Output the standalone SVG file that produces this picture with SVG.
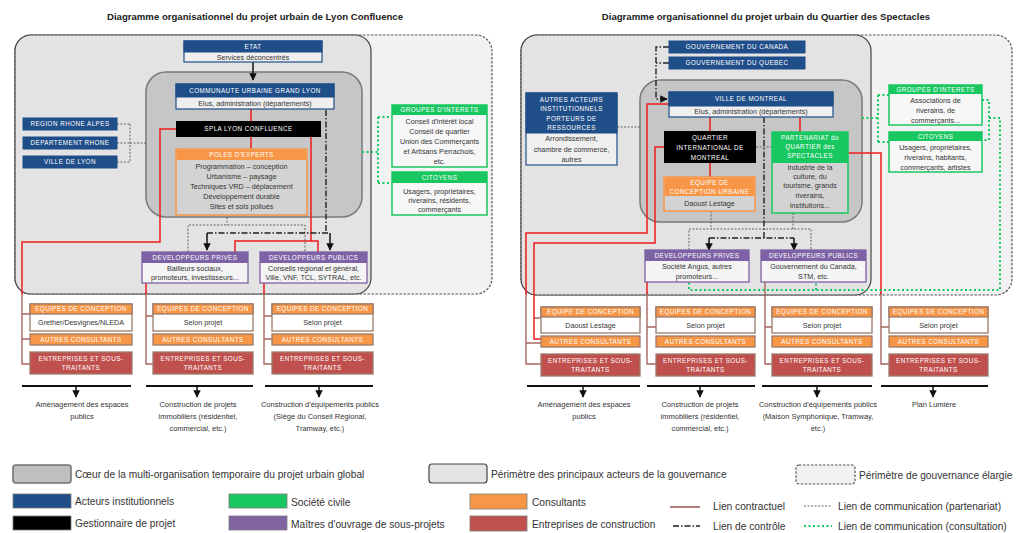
<svg xmlns="http://www.w3.org/2000/svg" width="1025" height="533" viewBox="0 0 1025 533">
<style>
text{font-family:"Liberation Sans",Arial,sans-serif}
.title{font-size:9.6px;font-weight:bold;fill:#222;text-anchor:middle}
.h{font-size:6.3px;letter-spacing:0.45px;fill:#fff;text-anchor:middle}
.b{font-size:7.2px;fill:#333;text-anchor:middle}
.cap{font-size:7.5px;fill:#333;text-anchor:middle}
.lg{font-size:10.2px;fill:#333}
.elarg{fill:#f2f2f2;stroke:#555;stroke-width:1.2;stroke-dasharray:2.5 1.5}
.princ{fill:#e3e3e3;stroke:#444;stroke-width:1.2}
.core{fill:#c6c6c6;stroke:#7a7a7a;stroke-width:1.5}
.inst{fill:#1f4e89;stroke:#1f4e89;stroke-width:1}
.instb{fill:#efefef;stroke:#1f4e89;stroke-width:1.2}
.proj{fill:#000}
.cons{fill:#f79646}
.consb{fill:#d3d3d3;stroke:#f79646;stroke-width:1.5}
.civ{fill:#19c760}
.civb{fill:#f7f7f7;stroke:#19c760;stroke-width:1.5}
.civg{fill:#d3d3d3;stroke:#19c760;stroke-width:1.5}
.moa{fill:#7e62a6}
.moab{fill:#f4f4f4;stroke:#7e62a6;stroke-width:1.3}
.eqb{fill:#fff;stroke:#9c7b6b;stroke-width:1.3}
.eqh{fill:#f79646;stroke:#9c7b6b;stroke-width:1.3}
.ent{fill:#c0504d;stroke:#9c7b6b;stroke-width:1.3}
.red{fill:none;stroke:#ee1c1c;stroke-width:1.5}
.ctr{fill:none;stroke:#a8655e;stroke-width:1.4}
.com{fill:none;stroke:#555;stroke-width:0.9;stroke-dasharray:2 1.5}
.ctl{fill:none;stroke:#222;stroke-width:1.4;stroke-dasharray:6 2 1.5 2}
.cst{fill:none;stroke:#19c760;stroke-width:2;stroke-dasharray:2 2.5}
.base{fill:none;stroke:#111;stroke-width:2}
.down{fill:none;stroke:#111;stroke-width:1.5}
</style>
<defs>
<marker id="ah" viewBox="0 0 10 10" refX="9" refY="5" markerWidth="5" markerHeight="5" orient="auto"><path d="M0,0 L10,5 L0,10 z" fill="#111"/></marker>
</defs>

<!-- titles -->
<text class="title" x="255" y="19.5">Diagramme organisationnel du projet urbain de Lyon Confluence</text>
<text class="title" x="766" y="19.5">Diagramme organisationnel du projet urbain du Quartier des Spectacles</text>

<!-- ===== Lyon Confluence ===== -->
<g id="lyon-perimetres">
<rect class="elarg" x="15" y="35" width="477" height="259" rx="16"/>
<rect class="princ" x="15" y="35" width="356" height="259" rx="16"/>
<rect class="core" x="146" y="72" width="216" height="145" rx="20"/>
</g>

<g id="lyon-connectors">
<!-- contract links -->
<path class="ctr" d="M22 292V364H30M22 314H30M22 339H30"/>
<path class="ctr" d="M146 292V364H153M146 316H153"/>
<path class="ctr" d="M264 292V364H272M264 316H272M264 339H272"/>
<path class="red" d="M251 109V121M251 137V149"/>
<path class="red" d="M176 129H160V242H22V294"/>
<path class="red" d="M311 137V241M235 252V241H318V252"/>
<path class="red" d="M146 283V294M264 283V294"/>
<!-- partnership communication -->
<path class="com" d="M117 124H130M117 143H130M117 162H130M130 124V162M130 143H146"/>
<path class="com" d="M227 217V225M188 252V225H305V252"/>
<!-- control -->
<path class="ctl" d="M326 110V233M207 233H330"/>
<path class="down" d="M207 233V250" marker-end="url(#ah)"/>
<path class="down" d="M330 233V250" marker-end="url(#ah)"/>
<path class="down" d="M253 62V80" marker-end="url(#ah)"/>
<!-- consultation -->
<path class="cst" d="M362 152H378M378 117V183M378 117H392M378 183H392"/>
<!-- deliverables -->
<path class="base" d="M22 386H131M146 386H253M265 386H373"/>
<path class="down" d="M76 386V397" marker-end="url(#ah)"/>
<path class="down" d="M197 386V397" marker-end="url(#ah)"/>
<path class="down" d="M319 386V397" marker-end="url(#ah)"/>
</g>

<g id="lyon-etat">
<rect class="instb" x="184" y="41" width="138" height="21"/>
<rect class="inst" x="184" y="41" width="138" height="11"/>
<text class="h" x="253" y="49.2">ETAT</text>
<text class="b" x="253" y="59.8">Services déconcentrés</text>
</g>
<g id="lyon-communaute">
<rect class="instb" x="176" y="84" width="158" height="25"/>
<rect class="inst" x="176" y="84" width="158" height="13"/>
<text class="h" x="255" y="92.8">COMMUNAUTE URBAINE GRAND LYON</text>
<text class="b" x="255" y="105.8">Elus, administration (départements)</text>
</g>
<g id="lyon-spla">
<rect class="proj" x="176" y="121" width="145" height="16"/>
<text class="h" x="248.5" y="131.3">SPLA LYON CONFLUENCE</text>
</g>
<g id="lyon-poles">
<rect class="consb" x="176" y="149" width="131" height="66"/>
<rect class="cons" x="176.7" y="149.7" width="129.6" height="10.3"/>
<text class="h" x="241.5" y="157.2">POLES D'EXPERTS</text>
<text class="b" x="241.5" y="169">Programmation – conception</text>
<text class="b" x="241.5" y="179">Urbanisme – paysage</text>
<text class="b" x="241.5" y="189">Techniques VRD – déplacement</text>
<text class="b" x="241.5" y="199">Développement durable</text>
<text class="b" x="241.5" y="209">Sites et sols pollués</text>
</g>
<g id="lyon-region"><rect class="inst" x="23" y="118" width="94" height="12"/><text class="h" x="70" y="126.3">REGION RHONE ALPES</text></g>
<g id="lyon-departement"><rect class="inst" x="23" y="137" width="94" height="12"/><text class="h" x="70" y="145.3">DEPARTEMENT RHONE</text></g>
<g id="lyon-ville"><rect class="inst" x="23" y="156" width="94" height="12"/><text class="h" x="70" y="164.3">VILLE DE LYON</text></g>
<g id="lyon-groupes">
<rect class="civb" x="392" y="105" width="95" height="62"/>
<rect class="civ" x="392" y="105" width="95" height="10"/>
<text class="h" x="439.5" y="112.4">GROUPES D'INTERETS</text>
<text class="b" x="439.5" y="123.5">Conseil d'intérêt local</text>
<text class="b" x="439.5" y="133.5">Conseil de quartier</text>
<text class="b" x="439.5" y="143.5">Union des Commerçants</text>
<text class="b" x="439.5" y="154">et Artisans Perrachois,</text>
<text class="b" x="439.5" y="164">etc.</text>
</g>
<g id="lyon-citoyens">
<rect class="civb" x="392" y="172" width="95" height="43"/>
<rect class="civ" x="392" y="172" width="95" height="11"/>
<text class="h" x="439.5" y="180">CITOYENS</text>
<text class="b" x="439.5" y="193.5">Usagers, propriétaires,</text>
<text class="b" x="439.5" y="202.5">riverains, résidents,</text>
<text class="b" x="439.5" y="211.8">commerçants</text>
</g>
<g id="lyon-dev-prives">
<rect class="moab" x="142" y="252" width="106" height="31"/>
<rect class="moa" x="142" y="252" width="106" height="11"/>
<text class="h" x="195" y="260">DEVELOPPEURS PRIVES</text>
<text class="b" x="195" y="271">Bailleurs sociaux,</text>
<text class="b" x="195" y="280.3">promoteurs, investisseurs...</text>
</g>
<g id="lyon-dev-publics">
<rect class="moab" x="260" y="252" width="107" height="31"/>
<rect class="moa" x="260" y="252" width="107" height="11"/>
<text class="h" x="313.5" y="260">DEVELOPPEURS PUBLICS</text>
<text class="b" x="313.5" y="271">Conseils régional et général,</text>
<text class="b" x="313.5" y="280.3">Ville, VNF, TCL, SYTRAL, etc.</text>
</g>

<g id="lyon-col1">
<rect class="eqb" x="30" y="304" width="102" height="27"/><rect class="eqh" x="30" y="304" width="102" height="10"/>
<text class="h" x="81" y="311.4">EQUIPES DE CONCEPTION</text><text class="b" x="81" y="325.3">Grether/Desvignes/NLEDA</text>
<rect class="eqh" x="30" y="334" width="102" height="11"/><text class="h" x="81" y="341.8">AUTRES CONSULTANTS</text>
<rect class="ent" x="30" y="352" width="102" height="22"/><text class="h" x="81" y="360.6">ENTREPRISES ET SOUS-</text><text class="h" x="81" y="369.6">TRAITANTS</text>
<text class="cap" x="82" y="407">Aménagement des espaces</text><text class="cap" x="82" y="419">publics</text>
</g>
<g id="lyon-col2">
<rect class="eqb" x="153" y="304" width="100" height="27"/><rect class="eqh" x="153" y="304" width="100" height="10"/>
<text class="h" x="203" y="311.4">EQUIPES DE CONCEPTION</text><text class="b" x="203" y="325.3">Selon projet</text>
<rect class="eqh" x="153" y="334" width="100" height="11"/><text class="h" x="203" y="341.8">AUTRES CONSULTANTS</text>
<rect class="ent" x="153" y="352" width="100" height="22"/><text class="h" x="203" y="360.6">ENTREPRISES ET SOUS-</text><text class="h" x="203" y="369.6">TRAITANTS</text>
<text class="cap" x="198" y="407">Construction de projets</text><text class="cap" x="198" y="419">immobiliers (résidentiel,</text><text class="cap" x="198" y="431">commercial, etc.)</text>
</g>
<g id="lyon-col3">
<rect class="eqb" x="272" y="304" width="101" height="27"/><rect class="eqh" x="272" y="304" width="101" height="10"/>
<text class="h" x="322.5" y="311.4">EQUIPES DE CONCEPTION</text><text class="b" x="322.5" y="325.3">Selon projet</text>
<rect class="eqh" x="272" y="334" width="101" height="11"/><text class="h" x="322.5" y="341.8">AUTRES CONSULTANTS</text>
<rect class="ent" x="272" y="352" width="101" height="22"/><text class="h" x="322.5" y="360.6">ENTREPRISES ET SOUS-</text><text class="h" x="322.5" y="369.6">TRAITANTS</text>
<text class="cap" x="320" y="407">Construction d'équipements publics</text><text class="cap" x="320" y="419">(Siège du Conseil Régional,</text><text class="cap" x="320" y="431">Tramway, etc.)</text>
</g>

<!-- ===== Quartier des Spectacles ===== -->
<g id="qds-perimetres">
<rect class="elarg" x="521" y="35" width="491" height="260" rx="16"/>
<rect class="princ" x="521" y="35" width="350" height="260" rx="16"/>
<rect class="core" x="640" y="80" width="222" height="142" rx="20"/>
</g>

<g id="qds-connectors">
<!-- contract links -->
<path class="ctr" d="M526 292V364H541M526 343H541"/>
<path class="ctr" d="M534 318H541"/>
<path class="ctr" d="M647 292V364H656M647 327H656"/>
<path class="ctr" d="M765 282V364H772M765 327H772"/>
<path class="ctr" d="M881 292V364H889M881 327H889"/>
<path class="red" d="M710 117V131M710 163V177M800 117V132"/>
<path class="red" d="M669 104H647V233H526V294"/>
<path class="red" d="M664 147H655V243H534V339H541"/>
<path class="red" d="M848 153H881V294"/>
<path class="red" d="M647 282V294"/>
<!-- partnership communication -->
<path class="com" d="M617 127H640M756 147H772"/>
<path class="com" d="M711 211V229M793 213V229M689 250V229H811V250"/>
<!-- control -->
<path class="ctl" d="M669 47H656V99H660M669 63H656"/>
<path class="down" d="M660 99H667" marker-end="url(#ah)"/>
<path class="ctl" d="M764 117V238M709 238H794"/>
<path class="down" d="M709 238V250" marker-end="url(#ah)"/>
<path class="down" d="M794 238V250" marker-end="url(#ah)"/>
<!-- consultation -->
<path class="cst" d="M862 118H878M878 95V142M878 95H889M878 142H889"/>
<path class="cst" d="M982 100H989V140H982M989 118H1000V290H689V282M816 290V282"/>
<!-- deliverables -->
<path class="base" d="M527 386H640M647 386H755M762 386H872M881 386H988"/>
<path class="down" d="M583 386V397" marker-end="url(#ah)"/>
<path class="down" d="M700 386V397" marker-end="url(#ah)"/>
<path class="down" d="M817 386V397" marker-end="url(#ah)"/>
<path class="down" d="M933 386V397" marker-end="url(#ah)"/>
</g>

<g id="qds-canada"><rect class="inst" x="669" y="41" width="136" height="12"/><text class="h" x="737" y="49.3">GOUVERNEMENT DU CANADA</text></g>
<g id="qds-quebec"><rect class="inst" x="669" y="57" width="136" height="12"/><text class="h" x="737" y="65.3">GOUVERNEMENT DU QUEBEC</text></g>
<g id="qds-montreal">
<rect class="instb" x="669" y="92" width="164" height="25"/>
<rect class="inst" x="669" y="92" width="164" height="14"/>
<text class="h" x="751" y="101.4">VILLE DE MONTREAL</text>
<text class="b" x="751" y="114.3">Elus, administration (départements)</text>
</g>
<g id="qds-autres-acteurs">
<rect class="instb" x="526" y="93" width="91" height="72"/>
<rect class="inst" x="526" y="93" width="91" height="40"/>
<text class="h" x="571.5" y="101.5">AUTRES ACTEURS</text>
<text class="h" x="571.5" y="111">INSTITUTIONNELS</text>
<text class="h" x="571.5" y="120.5">PORTEURS DE</text>
<text class="h" x="571.5" y="130">RESSOURCES</text>
<text class="b" x="571.5" y="141">Arrondissement,</text>
<text class="b" x="571.5" y="151.8">chambre de commerce,</text>
<text class="b" x="571.5" y="161.8">autres</text>
</g>
<g id="qds-qim">
<rect class="proj" x="664" y="131" width="92" height="32"/>
<text class="h" x="710" y="139.5">QUARTIER</text>
<text class="h" x="710" y="149.5">INTERNATIONAL DE</text>
<text class="h" x="710" y="159.5">MONTREAL</text>
</g>
<g id="qds-equipe-urbaine">
<rect class="consb" x="664" y="177" width="91" height="34"/>
<rect class="cons" x="664.7" y="177.7" width="89.6" height="18.3"/>
<text class="h" x="709.5" y="185.3">EQUIPE DE</text>
<text class="h" x="709.5" y="193.8">CONCEPTION URBAINE</text>
<text class="b" x="709.5" y="205.5">Daoust Lestage</text>
</g>
<g id="qds-partenariat">
<rect class="civg" x="772" y="132" width="76" height="81"/>
<rect class="civ" x="772" y="132" width="76" height="31"/>
<text class="h" x="810" y="139.5">PARTENARIAT du</text>
<text class="h" x="810" y="148.5">QUARTIER des</text>
<text class="h" x="810" y="157.5">SPECTACLES</text>
<text class="b" x="810" y="170">Industrie de la</text>
<text class="b" x="810" y="179">culture, du</text>
<text class="b" x="810" y="188">tourisme, grands</text>
<text class="b" x="810" y="198">riverains,</text>
<text class="b" x="810" y="207.5">institutions...</text>
</g>
<g id="qds-groupes">
<rect class="civb" x="889" y="85" width="93" height="40"/>
<rect class="civ" x="889" y="85" width="93" height="9"/>
<text class="h" x="935.5" y="91.9">GROUPES D'INTERETS</text>
<text class="b" x="935.5" y="103">Associations de</text>
<text class="b" x="935.5" y="113">riverains, de</text>
<text class="b" x="935.5" y="122.5">commerçants...</text>
</g>
<g id="qds-citoyens">
<rect class="civb" x="889" y="132" width="93" height="40"/>
<rect class="civ" x="889" y="132" width="93" height="9"/>
<text class="h" x="935.5" y="138.9">CITOYENS</text>
<text class="b" x="935.5" y="150">Usagers, propriétaires,</text>
<text class="b" x="935.5" y="160">riverains, habitants,</text>
<text class="b" x="935.5" y="169.5">commerçants, artistes</text>
</g>
<g id="qds-dev-prives">
<rect class="moab" x="645" y="250" width="104" height="32"/>
<rect class="moa" x="645" y="250" width="104" height="11"/>
<text class="h" x="697" y="258">DEVELOPPEURS PRIVES</text>
<text class="b" x="697" y="269">Société Angus, autres</text>
<text class="b" x="697" y="278.5">promoteurs...</text>
</g>
<g id="qds-dev-publics">
<rect class="moab" x="761" y="250" width="105" height="32"/>
<rect class="moa" x="761" y="250" width="105" height="11"/>
<text class="h" x="813.5" y="258">DEVELOPPEURS PUBLICS</text>
<text class="b" x="813.5" y="269">Gouvernement du Canada,</text>
<text class="b" x="813.5" y="278.5">STM, etc.</text>
</g>

<g id="qds-col1">
<rect class="eqb" x="541" y="307" width="99" height="26"/><rect class="eqh" x="541" y="307" width="99" height="10"/>
<text class="h" x="590.5" y="314.4">EQUIPE DE CONCEPTION</text><text class="b" x="590.5" y="327.8">Daoust Lestage</text>
<rect class="eqh" x="541" y="336" width="99" height="11"/><text class="h" x="590.5" y="343.8">AUTRES CONSULTANTS</text>
<rect class="ent" x="541" y="354" width="99" height="22"/><text class="h" x="590.5" y="362.6">ENTREPRISES ET SOUS-</text><text class="h" x="590.5" y="371.6">TRAITANTS</text>
<text class="cap" x="584" y="407">Aménagement des espaces</text><text class="cap" x="584" y="419">publics</text>
</g>
<g id="qds-col2">
<rect class="eqb" x="656" y="307" width="99" height="26"/><rect class="eqh" x="656" y="307" width="99" height="10"/>
<text class="h" x="705.5" y="314.4">EQUIPES DE CONCEPTION</text><text class="b" x="705.5" y="327.8">Selon projet</text>
<rect class="eqh" x="656" y="336" width="99" height="11"/><text class="h" x="705.5" y="343.8">AUTRES CONSULTANTS</text>
<rect class="ent" x="656" y="354" width="99" height="22"/><text class="h" x="705.5" y="362.6">ENTREPRISES ET SOUS-</text><text class="h" x="705.5" y="371.6">TRAITANTS</text>
<text class="cap" x="700" y="407">Construction de projets</text><text class="cap" x="700" y="419">immobiliers (résidentiel,</text><text class="cap" x="700" y="431">commercial, etc.)</text>
</g>
<g id="qds-col3">
<rect class="eqb" x="772" y="307" width="100" height="26"/><rect class="eqh" x="772" y="307" width="100" height="10"/>
<text class="h" x="822" y="314.4">EQUIPES DE CONCEPTION</text><text class="b" x="822" y="327.8">Selon projet</text>
<rect class="eqh" x="772" y="336" width="100" height="11"/><text class="h" x="822" y="343.8">AUTRES CONSULTANTS</text>
<rect class="ent" x="772" y="354" width="100" height="22"/><text class="h" x="822" y="362.6">ENTREPRISES ET SOUS-</text><text class="h" x="822" y="371.6">TRAITANTS</text>
<text class="cap" x="818" y="407">Construction d'équipements publics</text><text class="cap" x="818" y="419">(Maison Symphonique, Tramway,</text><text class="cap" x="818" y="431">etc.)</text>
</g>
<g id="qds-col4">
<rect class="eqb" x="889" y="307" width="99" height="26"/><rect class="eqh" x="889" y="307" width="99" height="10"/>
<text class="h" x="938.5" y="314.4">EQUIPES DE CONCEPTION</text><text class="b" x="938.5" y="327.8">Selon projet</text>
<rect class="eqh" x="889" y="336" width="99" height="11"/><text class="h" x="938.5" y="343.8">AUTRES CONSULTANTS</text>
<rect class="ent" x="889" y="354" width="99" height="22"/><text class="h" x="938.5" y="362.6">ENTREPRISES ET SOUS-</text><text class="h" x="938.5" y="371.6">TRAITANTS</text>
<text class="cap" x="934" y="407">Plan Lumière</text>
</g>

<!-- legend -->
<g id="legend">
<rect x="13" y="465" width="58" height="18" rx="3" fill="#bfbfbf" stroke="#707070" stroke-width="1.5"/>
<text class="lg" x="75" y="478">Cœur de la multi-organisation temporaire du projet urbain global</text>
<rect x="429" y="464" width="58" height="19" rx="3" fill="#e3e3e3" stroke="#444" stroke-width="1.2"/>
<text class="lg" x="491" y="477.5">Périmètre des principaux acteurs de la gouvernance</text>
<rect class="elarg" x="796" y="465" width="59" height="19" rx="3"/>
<text class="lg" x="859" y="478.5">Périmètre de gouvernance élargie</text>

<rect x="13" y="494" width="58" height="14" fill="#1f4e89" stroke="#7a7a7a" stroke-width="0.8"/>
<text class="lg" x="75" y="505">Acteurs institutionnels</text>
<rect x="229" y="494" width="58" height="14" fill="#19c760" stroke="#7a7a7a" stroke-width="0.8"/>
<text class="lg" x="291" y="505.5">Société civile</text>
<rect x="470" y="494" width="57" height="15" fill="#f79646" stroke="#7a7a7a" stroke-width="0.8"/>
<text class="lg" x="532" y="505.5">Consultants</text>
<line x1="670" y1="507" x2="700" y2="507" stroke="#b07f7a" stroke-width="2"/>
<text class="lg" x="713" y="510">Lien contractuel</text>
<line x1="804" y1="506" x2="832" y2="506" class="com"/>
<text class="lg" x="838" y="509.5">Lien de communication (partenariat)</text>

<rect x="13" y="516" width="58" height="14" fill="#000" stroke="#7a7a7a" stroke-width="0.8"/>
<text class="lg" x="75" y="527">Gestionnaire de projet</text>
<rect x="229" y="516" width="58" height="14" fill="#8064a2" stroke="#7a7a7a" stroke-width="0.8"/>
<text class="lg" x="291" y="527.5">Maîtres d'ouvrage de sous-projets</text>
<rect x="470" y="516" width="57" height="15" fill="#c0504d" stroke="#7a7a7a" stroke-width="0.8"/>
<text class="lg" x="532" y="528">Entreprises de construction</text>
<line x1="673" y1="526" x2="700" y2="526" class="ctl"/>
<text class="lg" x="713" y="529.5">Lien de contrôle</text>
<line x1="804" y1="526" x2="832" y2="526" class="cst"/>
<text class="lg" x="838" y="529.5">Lien de communication (consultation)</text>
</g>
</svg>
